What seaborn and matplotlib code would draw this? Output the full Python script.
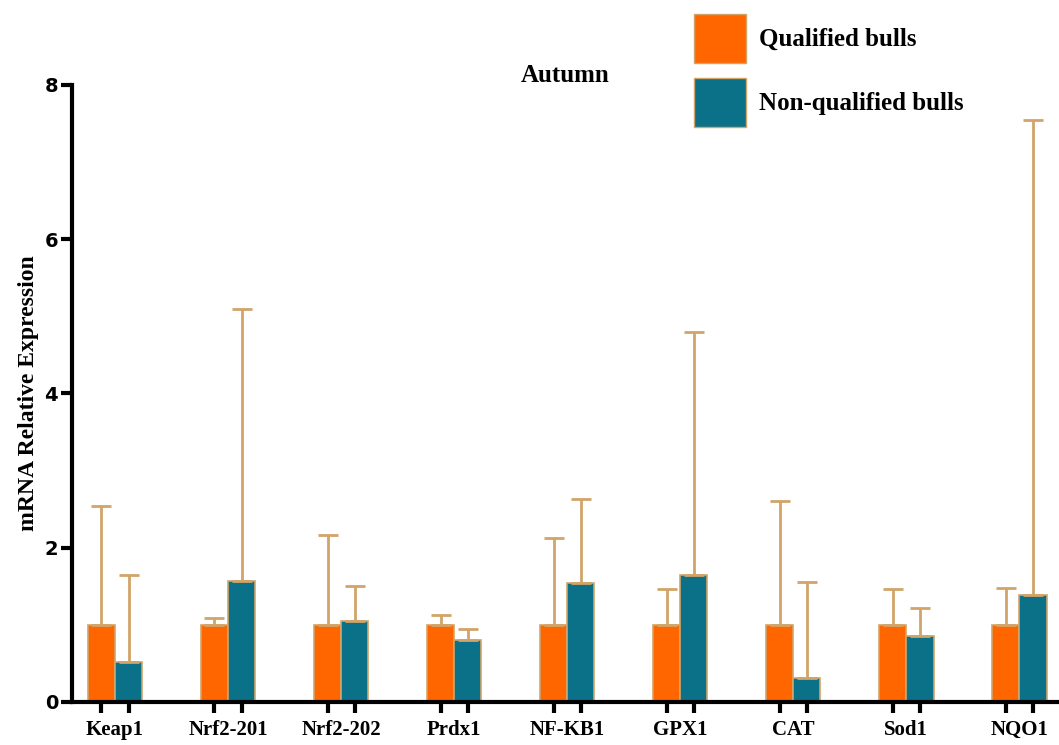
import numpy as np
import pandas as pd
import matplotlib
matplotlib.use("Agg")
import matplotlib.pyplot as plt
import seaborn as sns
from matplotlib.patches import Patch

genes = ["Keap1", "Nrf2-201", "Nrf2-202", "Prdx1", "NF-KB1", "GPX1", "CAT", "Sod1", "NQO1"]
groups = ["Qualified bulls", "Non-qualified bulls"]
qualified = [1.0, 1.0, 1.0, 1.0, 1.0, 1.0, 1.0, 1.0, 1.0]
qualified_top = [2.54, 1.09, 2.16, 1.12, 2.12, 1.46, 2.60, 1.46, 1.47]
nonqualified = [0.52, 1.57, 1.05, 0.80, 1.54, 1.64, 0.31, 0.85, 1.38]
nonqualified_top = [1.65, 5.10, 1.50, 0.94, 2.63, 4.80, 1.56, 1.21, 7.54]

colors = ["#FF6600", "#0B7189"]
err_color = "#D2A468"

df = pd.DataFrame({
    "gene": genes * 2,
    "group": [groups[0]] * len(genes) + [groups[1]] * len(genes),
    "value": qualified + nonqualified,
    "top": qualified_top + nonqualified_top,
})

sns.set_style("white")
plt.rcParams["font.family"] = ["Liberation Serif", "DejaVu Serif"]
plt.rcParams.update({"text.color": "black", "axes.labelcolor": "black",
                     "xtick.color": "black", "ytick.color": "black"})

fig = plt.figure(figsize=(10.59, 7.45), dpi=100)
ax = fig.add_axes([0.068, 0.058, 0.932, 0.828])

sns.barplot(data=df, x="gene", y="value", hue="group", order=genes, hue_order=groups,
            palette=colors, saturation=1, errorbar=None, width=0.48, edgecolor=err_color,
            linewidth=1.2, legend=False, ax=ax)

# upward-only error bars, placed from the drawn bars
bar_x = []
for container, grp in zip(ax.containers, groups):
    sub = df[df["group"] == grp].set_index("gene").loc[genes]
    xs = [p.get_x() + p.get_width() / 2 for p in container.patches]
    bar_x += xs
    ax.errorbar(xs, sub["value"], yerr=[np.zeros(len(xs)), sub["top"] - sub["value"]],
                fmt="none", ecolor=err_color, elinewidth=2, capsize=7, capthick=2, zorder=1)

ax.set_ylim(0, 8)
ax.set_xlim(-0.38, 8.35)
ax.set_yticks([0, 2, 4, 6, 8])
ax.set_yticklabels(["0", "2", "4", "6", "8"], fontfamily="DejaVu Sans",
                   fontweight="bold", fontsize=14)
ax.set_xticks(sorted(bar_x))
ax.set_xticklabels([])
ax.set_xticks(range(len(genes)), minor=True)
ax.set_xticklabels(genes, minor=True, fontweight="bold", fontsize=15)
ax.tick_params(axis="x", which="major", bottom=True, direction="out", length=8, width=3)
ax.tick_params(axis="x", which="minor", bottom=True, length=0, pad=13)
ax.tick_params(axis="y", left=True, direction="out", length=8, width=3, pad=2)

sns.despine(ax=ax)
for s in ["left", "bottom"]:
    ax.spines[s].set_linewidth(3)
    ax.spines[s].set_color("black")

ax.set_xlabel("")
ax.set_ylabel("mRNA Relative Expression", fontweight="bold", fontsize=17, labelpad=4)
ax.set_title("Autumn", fontweight="bold", fontsize=18, x=0.5, y=1.0, pad=2)

handles = [Patch(facecolor=c, edgecolor=err_color, linewidth=1) for c in colors]
fig.legend(handles, groups, loc="upper left", bbox_to_anchor=(0.634, 1.012), frameon=False,
           prop={"weight": "bold", "size": 18}, handlelength=2.1, handleheight=2.65,
           labelspacing=0.6, handletextpad=0.5, borderpad=0.4)

fig.savefig("out.png", dpi=100)
